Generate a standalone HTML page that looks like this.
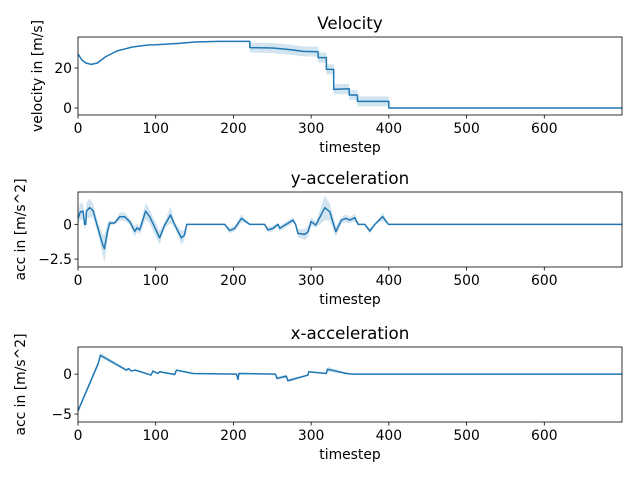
<!DOCTYPE html>
<html><head><meta charset="utf-8"><style>
body{margin:0;background:#fff;}
svg text{font-family:"DejaVu Sans","Liberation Sans",sans-serif;fill:#000;}
</style></head><body>
<svg id="c" width="640" height="480" viewBox="0 0 640 480"></svg>
<script>
// Velocity panel data
const velT=[0,5,10,17,25,35,50,70,90,100,130,150,180,221,221,250,270,290,309,309,319.6,319.6,329,329,349,349,359.6,359.6,400,400,700];
const velV=[27,24,22.5,21.8,22.5,25.5,28.5,30.5,31.5,31.6,32.3,33,33.3,33.3,30.2,30,29.3,28.3,28.1,25.2,25.2,19.3,19.3,9.3,9.6,6.5,6.5,3.3,3.3,0,0];
const velBand=[0.2,0.2,0.2,0.2,0.2,0.2,0.2,0.2,0.2,0.2,0.2,0.2,0.2,0.2,2.5,2.5,2.5,2.5,2.5,2.5,2.5,2.5,2.5,2.5,2.5,2.5,2.5,2.5,2.5,0,0];
const velTicksY=[0,20];
// y-acceleration data
const yaT=[0,3,6.5,8.6,10,10.8,15,19.3,25.8,32,34,37.8,40.8,47,53.7,60,66.5,73,76,79.4,87,92.3,105,111.6,119,124.6,133,137,140,188.8,195.2,201.7,210.3,221,240,244.5,251,257.4,259.6,276.7,280,283,291.7,296,300,306,317.6,324,331.8,339,344.7,349.8,356.3,360.5,369,375.5,382,392,399.4,700];
const yaV=[0.43,0.9,0.95,0,0,0.95,1.2,1.0,-0.3,-1.5,-1.75,-0.55,0.1,0.1,0.55,0.55,0.2,-0.5,-0.25,-0.4,0.95,0.55,-0.97,-0.05,0.67,-0.05,-0.97,-0.77,0,0,-0.45,-0.29,0.43,0,0,-0.4,-0.29,0,-0.29,0.31,0,-0.65,-0.72,-0.53,0.2,-0.05,1.2,0.9,-0.53,0.31,0.43,0.31,0.48,0,0,-0.48,0,0.55,0,0];
const yaBand=[0.4,0.6,0.6,0.3,0.3,0.6,0.7,0.5,0.4,0.8,1.0,0.6,0.2,0.1,0.3,0.3,0.2,0.4,0.3,0.3,0.6,0.5,0.5,0.2,0.6,0.2,0.5,0.4,0,0,0.2,0.2,0.3,0,0,0.2,0.2,0.1,0.2,0.2,0,0.3,0.4,0.4,0.3,0.2,0.9,0.6,0.4,0.2,0.3,0.2,0.3,0,0,0.2,0,0.3,0,0];
const yaTicksY=[0,-2.5];
// x-acceleration data
const xaT=[0,26,28.8,62.3,65,68.5,74,94,96.4,102.8,105,124.5,126.6,148,203.8,206,207,254,256,268,270,296,297,319.6,321,345.5,354,700];
const xaV=[-4.6,1.33,2.37,0.5,0.7,0.4,0.5,-0.12,0.38,0.08,0.3,-0.04,0.5,0.08,0,-0.67,0.08,0,-0.54,-0.25,-0.83,-0.12,0.3,0.08,0.62,0.08,0,0];
const xaBand=[0.3,0.3,0.3,0.15,0.15,0.1,0.1,0.1,0.1,0.1,0.1,0.1,0.1,0.05,0,0.2,0,0,0.2,0.2,0.2,0.1,0.1,0.1,0.3,0.1,0,0];
const xaTicksY=[0,-5];
const xTicks=[0,100,200,300,400,500,600];

const NS="http://www.w3.org/2000/svg";
const svg=document.getElementById('c');
function mk(tag,attrs,parent){const e=document.createElementNS(NS,tag);for(const k in attrs)e.setAttribute(k,attrs[k]);(parent||svg).appendChild(e);return e;}

function panel(key,title,ylabel,ylabX,top,bottom,ymin,ymax,T,V,B,ticksY){
  const L=78,R=622,xmax=700;
  const g=mk('g',{});
  
  
  const sx=t=>L+(R-L)*t/xmax;
  const sy=v=>bottom-(bottom-top)*(v-ymin)/(ymax-ymin);
  let up=T.map((t,i)=>sx(t).toFixed(2)+','+sy(V[i]+B[i]).toFixed(2));
  let lo=T.map((t,i)=>sx(t).toFixed(2)+','+sy(V[i]-B[i]).toFixed(2)).reverse();
  const band=mk('polygon',{points:up.concat(lo).join(' '),fill:'#1f77b4','fill-opacity':0.2,stroke:'none'},g);
  
  
  const line=mk('polyline',{points:T.map((t,i)=>sx(t).toFixed(2)+','+sy(V[i]).toFixed(2)).join(' '),fill:'none',stroke:'#1f77b4','stroke-width':1.5,'stroke-linejoin':'round'},g);
  
  
  const frame=mk('rect',{x:L,y:top,width:R-L,height:bottom-top,fill:'none',stroke:'#000','stroke-width':0.8},g);
  
  
  xTicks.forEach(t=>{
    mk('line',{x1:sx(t),x2:sx(t),y1:bottom,y2:bottom+3.5,stroke:'#000','stroke-width':0.8},g);
    const tx=mk('text',{x:sx(t),y:bottom+18,'text-anchor':'middle','font-size':13.9},g);
    tx.textContent=t;
    
    
  });
  ticksY.forEach(v=>{
    mk('line',{x1:L-3.5,x2:L,y1:sy(v),y2:sy(v),stroke:'#000','stroke-width':0.8},g);
    const tx=mk('text',{x:L-6,y:sy(v)+5,'text-anchor':'end','font-size':13.9},g);
    tx.textContent=(v<0?'\u2212'+Math.abs(v):v);
    
    
  });
  const ti=mk('text',{x:(L+R)/2,y:top-8,'text-anchor':'middle','font-size':16.7},g);
  ti.textContent=title;
  
  
  const xl=mk('text',{x:(L+R)/2,y:bottom+37,'text-anchor':'middle','font-size':13.9},g);
  xl.textContent='timestep';
  
  
  const cy=(top+bottom)/2;
  const yl=mk('text',{x:ylabX,y:cy,'text-anchor':'middle','font-size':13.9,transform:'rotate(-90 '+ylabX+' '+cy+')'},g);
  yl.textContent=ylabel;
  
  
}
panel('velocity','Velocity','velocity in [m/s]',42,37,115,-3.5,35.5,velT,velV,velBand,velTicksY);
panel('y-acceleration','y-acceleration','acc in [m/s^2]',25,192,267,-3.07,2.33,yaT,yaV,yaBand,yaTicksY);
panel('x-acceleration','x-acceleration','acc in [m/s^2]',25,347,422,-6,3.4,xaT,xaV,xaBand,xaTicksY);
</script>
</body></html>
